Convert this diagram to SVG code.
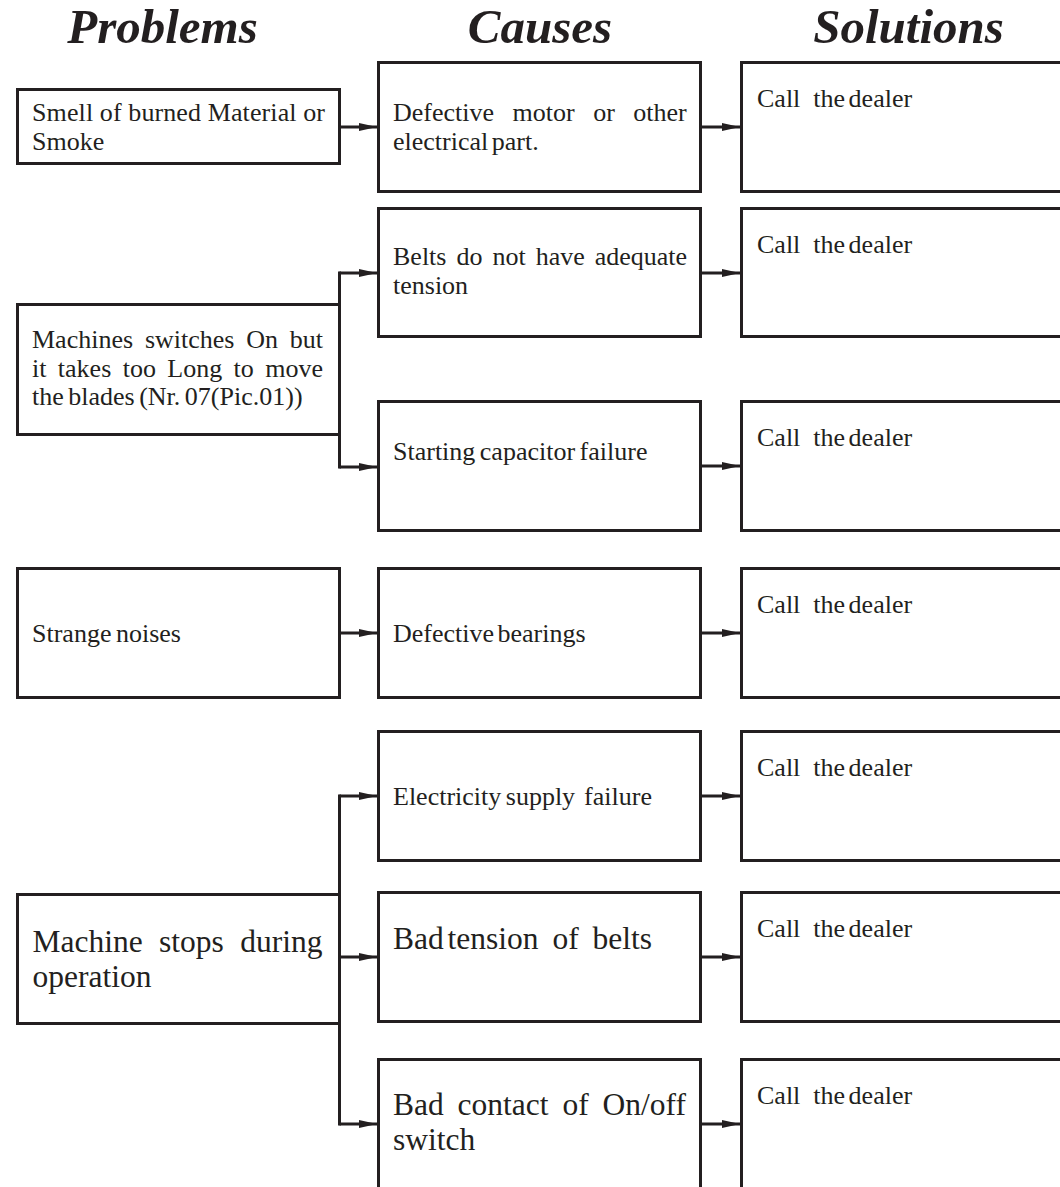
<svg xmlns="http://www.w3.org/2000/svg" width="1060" height="1187" viewBox="0 0 1060 1187">
<style>
  .box { fill: #ffffff; stroke: #231f20; stroke-width: 3; }
  .hdr { font-family: "Liberation Serif", "Times New Roman", serif; font-weight: bold; font-style: italic; font-size: 49px; fill: #231f20; text-anchor: middle; }
  .t { font-family: "Liberation Serif", "Times New Roman", serif; font-size: 26px; fill: #231f20; }
  .tb { font-family: "Liberation Serif", "Times New Roman", serif; font-size: 31.5px; fill: #231f20; }
  .ln { fill: none; stroke: #231f20; stroke-width: 3; }
  .arr { fill: none; stroke: #231f20; stroke-width: 3; marker-end: url(#ah); }
</style>
<defs>
  <marker id="ah" markerUnits="userSpaceOnUse" markerWidth="19" markerHeight="9" refX="18" refY="4" orient="auto">
    <path d="M0,0 L18,4 L0,8 Z" fill="#231f20"/>
  </marker>
</defs>
<rect width="1060" height="1187" fill="#ffffff"/>

<g id="headers">
  <text class="hdr" x="162.5" y="43">Problems</text>
  <text class="hdr" x="540" y="43">Causes</text>
  <text class="hdr" x="908.5" y="43">Solutions</text>
</g>

<g id="connectors">
  <path class="arr" d="M341,127 H377"/>
  <path class="arr" d="M702,127 H740"/>
  <path class="ln" d="M339.5,273 V467" stroke-linecap="square"/>
  <path class="arr" d="M339.5,273 H377"/>
  <path class="arr" d="M339.5,467 H377"/>
  <path class="arr" d="M702,273 H740"/>
  <path class="arr" d="M702,466 H740"/>
  <path class="arr" d="M341,633 H377"/>
  <path class="arr" d="M702,633 H740"/>
  <path class="ln" d="M339.5,796 V1124" stroke-linecap="square"/>
  <path class="arr" d="M339.5,796 H377"/>
  <path class="arr" d="M339.5,957 H377"/>
  <path class="arr" d="M339.5,1124 H377"/>
  <path class="arr" d="M702,796 H740"/>
  <path class="arr" d="M702,957 H740"/>
  <path class="arr" d="M702,1124 H740"/>
</g>

<g id="problem1">
  <rect class="box" x="17.5" y="89.5" width="322" height="74"/>
  <text class="t" x="32" y="121" textLength="293" lengthAdjust="spacing">Smell of burned Material or</text>
  <text class="t" x="32" y="150">Smoke</text>
</g>
<g id="problem2">
  <rect class="box" x="17.5" y="304.5" width="322" height="130"/>
  <text class="t" x="32" y="348" word-spacing="5.3">Machines switches On but</text>
  <text class="t" x="32" y="376.5" word-spacing="4.9">it takes too Long to move</text>
  <text class="t" x="32" y="405" word-spacing="-2">the blades (Nr. 07(Pic.01))</text>
</g>
<g id="problem3">
  <rect class="box" x="17.5" y="568.5" width="322" height="129"/>
  <text class="t" x="32" y="641.5" word-spacing="-2">Strange noises</text>
</g>
<g id="problem4">
  <rect class="box" x="17.5" y="894.5" width="322" height="129"/>
  <text class="tb" x="32.5" y="952" word-spacing="8.5">Machine stops during</text>
  <text class="tb" x="32.5" y="987">operation</text>
</g>

<g id="cause1">
  <rect class="box" x="378.5" y="62.5" width="322" height="129"/>
  <text class="t" x="393" y="121" word-spacing="12">Defective motor or other</text>
  <text class="t" x="393" y="150" word-spacing="-3">electrical part.</text>
</g>
<g id="cause2">
  <rect class="box" x="378.5" y="208.5" width="322" height="128"/>
  <text class="t" x="393" y="265" word-spacing="3.5">Belts do not have adequate</text>
  <text class="t" x="393" y="294">tension</text>
</g>
<g id="cause3">
  <rect class="box" x="378.5" y="401.5" width="322" height="129"/>
  <text class="t" x="393" y="460" word-spacing="-2">Starting capacitor failure</text>
</g>
<g id="cause4">
  <rect class="box" x="378.5" y="568.5" width="322" height="129"/>
  <text class="t" x="393" y="641.5" word-spacing="-3">Defective bearings</text>
</g>
<g id="cause5">
  <rect class="box" x="378.5" y="731.5" width="322" height="129"/>
  <text class="t" x="393" y="805" xml:space="preserve" word-spacing="-2">Electricity supply  failure</text>
</g>
<g id="cause6">
  <rect class="box" x="378.5" y="892.5" width="322" height="129"/>
  <text class="tb" x="393" y="949" word-spacing="6"><tspan word-spacing="-4">Bad tension</tspan> of belts</text>
</g>
<g id="cause7">
  <rect class="box" x="378.5" y="1059.5" width="322" height="160"/>
  <text class="tb" x="393" y="1115" word-spacing="6">Bad contact of On/off</text>
  <text class="tb" x="393" y="1150">switch</text>
</g>

<g id="solution1">
  <rect class="box" x="741.5" y="62.5" width="400" height="129"/>
  <text class="t" x="757" y="107" xml:space="preserve">Call  the<tspan dx="-3"> dealer</tspan></text>
</g>
<g id="solution2">
  <rect class="box" x="741.5" y="208.5" width="400" height="128"/>
  <text class="t" x="757" y="253" xml:space="preserve">Call  the<tspan dx="-3"> dealer</tspan></text>
</g>
<g id="solution3">
  <rect class="box" x="741.5" y="401.5" width="400" height="129"/>
  <text class="t" x="757" y="446" xml:space="preserve">Call  the<tspan dx="-3"> dealer</tspan></text>
</g>
<g id="solution4">
  <rect class="box" x="741.5" y="568.5" width="400" height="129"/>
  <text class="t" x="757" y="613" xml:space="preserve">Call  the<tspan dx="-3"> dealer</tspan></text>
</g>
<g id="solution5">
  <rect class="box" x="741.5" y="731.5" width="400" height="129"/>
  <text class="t" x="757" y="776" xml:space="preserve">Call  the<tspan dx="-3"> dealer</tspan></text>
</g>
<g id="solution6">
  <rect class="box" x="741.5" y="892.5" width="400" height="129"/>
  <text class="t" x="757" y="937" xml:space="preserve">Call  the<tspan dx="-3"> dealer</tspan></text>
</g>
<g id="solution7">
  <rect class="box" x="741.5" y="1059.5" width="400" height="160"/>
  <text class="t" x="757" y="1104" xml:space="preserve">Call  the<tspan dx="-3"> dealer</tspan></text>
</g>
</svg>
